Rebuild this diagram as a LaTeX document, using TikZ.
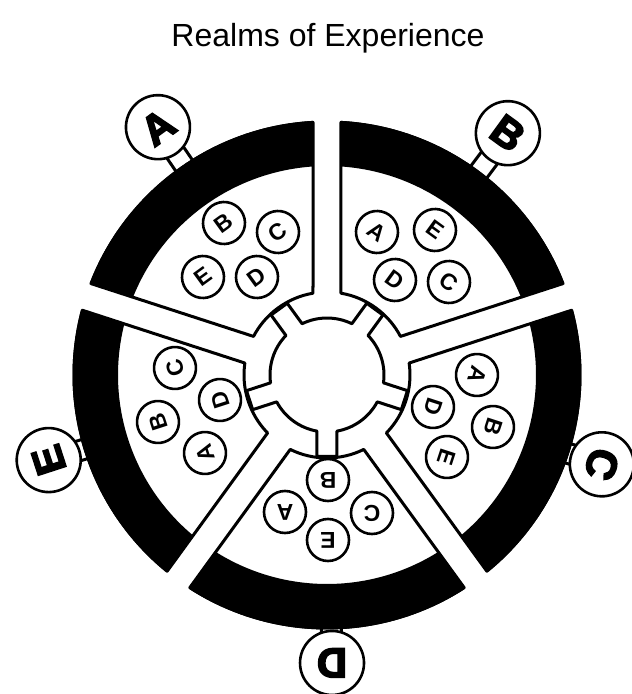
\documentclass[tikz,border=0pt]{standalone}
\usepackage{fontspec}
\setmainfont{Liberation Sans}
\newfontfamily\tagfont{Liberation Sans Bold}[FakeBold=4]
\usetikzlibrary{calc}

\begin{document}
\begin{tikzpicture}[
    x=1pt, y=1pt,
    outline/.style={
        draw=black, line width=3pt, fill=white, line join=round
    },
    realm/.style={
        circle, draw, line width=2.6pt, fill=white,
        minimum size=42pt, inner sep=0pt,
        font=\bfseries\fontsize{23}{23}\selectfont
    },
    realmtag/.style={
        circle, draw, line width=2.6pt, fill=white,
        minimum size=64pt, inner sep=0pt,
        font=\tagfont\fontsize{42}{42}\selectfont
    },
    heading/.style={
        anchor=base, font=\fontsize{32}{38}\selectfont
    }
]
\useasboundingbox (-327,-319) rectangle (305,375);

% --- title ---
\node[heading] (title) at (1,328) {Realms of Experience};

% --- necks of the outer tags ---
\foreach \ang/\dist in {124.3/300, 53.2/302, -18/289, -89/288, 197/291}{
  \begin{scope}[rotate=\ang]
    \draw[outline] (240,-10) rectangle (\dist,10);
  \end{scope}
}

% --- five sectors with their black rims ---
\foreach \m in {126, 54, -18, -90, 198}{
  \draw[outline]
    ({\m+36-asin(14/83)}:83) -- ({\m+36-asin(14/253)}:253)
    arc[start angle={\m+36-asin(14/253)}, end angle={\m-36+asin(14/253)}, radius=253]
    -- ({\m-36+asin(14/83)}:83)
    arc[start angle={\m-36+asin(14/83)}, end angle={\m+36-asin(14/83)}, radius=83]
    -- cycle;
  \fill
    ({\m+36-asin(14/254.5)}:254.5)
    arc[start angle={\m+36-asin(14/254.5)}, end angle={\m-36+asin(14/254.5)}, radius=254.5]
    -- ({\m-36+asin(14/209)}:209)
    arc[start angle={\m-36+asin(14/209)}, end angle={\m+36-asin(14/209)}, radius=209]
    -- cycle;
}

% --- hub with five teeth ---
\draw[outline] ({-90-asin(10/57)}:57)
  \foreach \m in {-90, -18, 54, 126, 198}{
    -- ({\m-asin(10/57)}:57) -- ({\m-asin(10/82)}:82)
    -- ({\m+asin(10/82)}:82) -- ({\m+asin(10/57)}:57)
    arc[start angle={\m+asin(10/57)}, end angle={\m+72-asin(10/57)}, radius=57]
  } -- cycle;

% --- realms inside each sector ---
\node[realm, rotate=36]  (aB) at (-103,152) {B};
\node[realm, rotate=36]  (aC) at (-49,143)  {C};
\node[realm, rotate=36]  (aE) at (-124,98)  {E};
\node[realm, rotate=36]  (aD) at (-70,98)   {D};

\node[realm, rotate=-36] (bA) at (50,143)   {A};
\node[realm, rotate=-36] (bE) at (108,145)  {E};
\node[realm, rotate=-36] (bD) at (68,95)    {D};
\node[realm, rotate=-36] (bC) at (122,93)   {C};

\node[realm, rotate=-108] (cA) at (150,0)   {A};
\node[realm, rotate=-108] (cD) at (106,-32) {D};
\node[realm, rotate=-108] (cB) at (166,-52) {B};
\node[realm, rotate=-108] (cE) at (120,-82) {E};

\node[realm, rotate=180] (dB) at (1,-105)   {B};
\node[realm, rotate=180] (dA) at (-42,-137) {A};
\node[realm, rotate=180] (dC) at (45,-138)  {C};
\node[realm, rotate=180] (dE) at (1,-165)   {E};

\node[realm, rotate=108] (eC) at (-152,7)   {C};
\node[realm, rotate=108] (eD) at (-107,-25) {D};
\node[realm, rotate=108] (eB) at (-169,-47) {B};
\node[realm, rotate=108] (eA) at (-122,-78) {A};

% --- outer tags ---
\node[realmtag, rotate=36]   (tagA) at (124.3:300) {A};
\node[realmtag, rotate=-36]  (tagB) at (53.2:302)  {B};
\node[realmtag, rotate=-108] (tagC) at (-18:289)   {C};
\node[realmtag, rotate=180]  (tagD) at (-89:288)   {D};
\node[realmtag, rotate=108]  (tagE) at (197:291)   {E};

\end{tikzpicture}
\end{document}
